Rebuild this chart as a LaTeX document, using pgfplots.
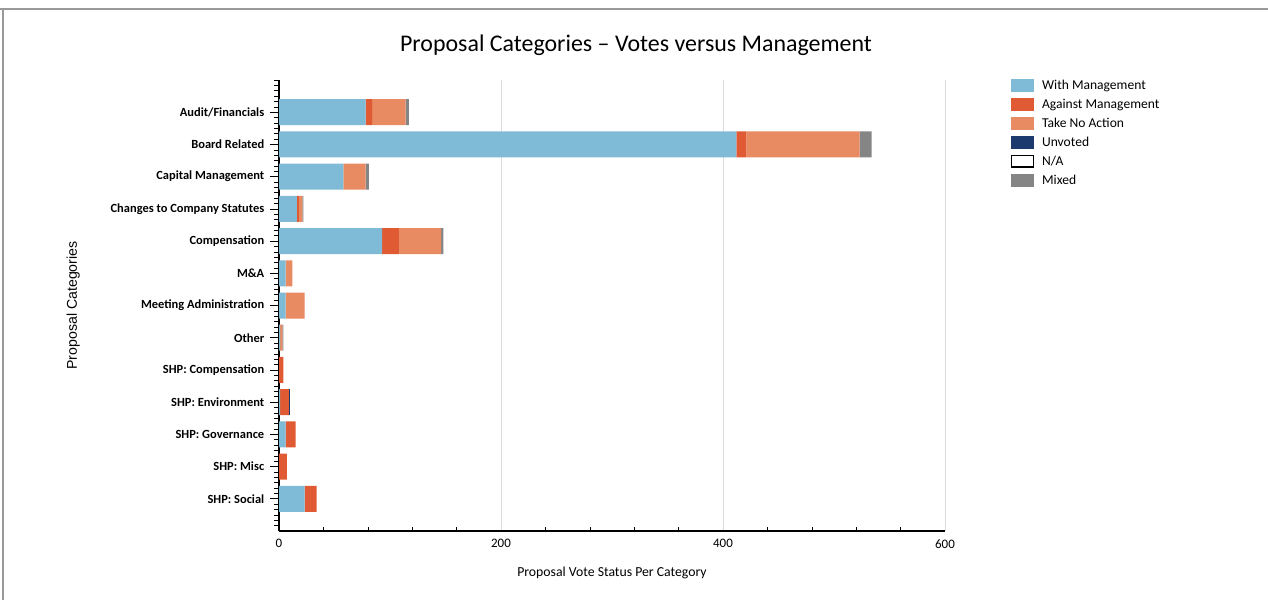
\documentclass[border=0pt]{standalone}
\usepackage{pgfplots}
\pgfplotsset{compat=1.18}
\usepackage{fontspec}
\setmainfont{Carlito}
\newfontfamily\arialfont{Liberation Sans}
\definecolor{withm}{HTML}{7FBAD6}
\definecolor{against}{HTML}{E05A33}
\definecolor{tna}{HTML}{E88A62}
\definecolor{unvoted}{HTML}{1C3A6E}
\definecolor{mixed}{HTML}{858585}
\definecolor{gridc}{HTML}{DADADA}
\begin{document}
\begin{tikzpicture}
\useasboundingbox (0,0) rectangle (1268bp,600bp);
\draw[gray!80, line width=1.2bp] (0,591bp) -- (1268bp,591bp);
\draw[gray!80, line width=1.2bp] (3bp,0) -- (3bp,591bp);
\node[font=\fontsize{24}{28}\selectfont] at (636bp,555bp) {Proposal Categories -- Votes versus Management};
\begin{axis}[
  at={(279bp,69bp)}, anchor=south west,
  scale only axis,
  width=666bp, height=451bp,
  xbar stacked,
  bar width=26bp,
  xmin=0, xmax=600,
  ymin=-1, ymax=13,
  y dir=reverse,
  axis lines=left,
  axis line style={black, line width=1.2bp, -},
  xtick={0,200,400,600},
  minor x tick num=4,
  ytick={0,...,12},
  minor ytick={-1,-0.8333,-0.6667,-0.5,-0.3333,-0.1667,
    0.1667,0.3333,0.5,0.6667,0.8333,
    1.1667,1.3333,1.5,1.6667,1.8333,
    2.1667,2.3333,2.5,2.6667,2.8333,
    3.1667,3.3333,3.5,3.6667,3.8333,
    4.1667,4.3333,4.5,4.6667,4.8333,
    5.1667,5.3333,5.5,5.6667,5.8333,
    6.1667,6.3333,6.5,6.6667,6.8333,
    7.1667,7.3333,7.5,7.6667,7.8333,
    8.1667,8.3333,8.5,8.6667,8.8333,
    9.1667,9.3333,9.5,9.6667,9.8333,
    10.1667,10.3333,10.5,10.6667,10.8333,
    11.1667,11.3333,11.5,11.6667,11.8333,
    12.1667,12.3333,12.5,12.6667,12.8333},
  yticklabels={Audit/Financials, Board Related, Capital Management,
    Changes to Company Statutes, Compensation, M\&A, Meeting Administration,
    Other, SHP: Compensation, SHP: Environment, SHP: Governance, SHP: Misc,
    SHP: Social},
  yticklabel style={font=\fontsize{12.5}{14}\selectfont\bfseries, xshift=-7bp},
  xticklabel style={font=\fontsize{13}{15}\selectfont, yshift=-5bp},
  /pgf/number format/assume math mode=true,
  ytick style={black, line width=0.6bp},
  xtick style={black, line width=0.6bp},
  y tick style={/pgfplots/major tick length=9bp, /pgfplots/minor tick length=5bp},
  x tick style={/pgfplots/major tick length=0bp, /pgfplots/minor tick length=4bp},
  ytick align=outside,
  xtick align=inside,
  xmajorgrids,
  major x grid style={gridc, line width=1bp},
  xlabel={Proposal Vote Status Per Category},
  ylabel={\arialfont Proposal Categories},
  xlabel style={font=\fontsize{13.8}{16}\selectfont, at={(0.5,-0.092)}, anchor=center},
  ylabel style={font=\fontsize{14.2}{16}\selectfont, at={(-0.309,0.5)}, anchor=center},
  legend style={at={(1.099,1.005)}, anchor=north west, draw=none,
    font=\fontsize{13.6}{15}\selectfont, row sep=4.1bp,
    inner sep=0pt, cells={anchor=west}},
  legend image code/.code={
    \draw[#1, draw=none] (0bp,-6.5bp) rectangle (23bp,6.5bp);},
]
\addplot[fill=withm, draw=none] coordinates {
  (78,0) (412,1) (58,2) (16,3) (93,4) (6,5) (6,6) (1,7) (0,8) (1,9) (6,10) (0,11) (23,12)};
\addlegendentry{\hspace{6bp}With Management}
\addplot[fill=against, draw=none] coordinates {
  (6,0) (9,1) (0,2) (2,3) (15,4) (0,5) (0,6) (0,7) (4,8) (8,9) (9,10) (7,11) (11,12)};
\addlegendentry{\hspace{6bp}Against Management}
\addplot[fill=tna, draw=none] coordinates {
  (30,0) (102,1) (20,2) (3,3) (38,4) (6,5) (17,6) (2,7) (0,8) (0,9) (0,10) (0,11) (0,12)};
\addlegendentry{\hspace{6bp}Take No Action}
\addplot[fill=unvoted, draw=none] coordinates {
  (0,0) (0,1) (0,2) (0,3) (0,4) (0,5) (0,6) (0,7) (0,8) (1,9) (0,10) (0,11) (0,12)};
\addlegendentry{\hspace{6bp}Unvoted}
\addlegendimage{legend image code/.code={
    \draw[black, fill=white, line width=1.3bp] (0.7bp,-5.8bp) rectangle (22.3bp,5.8bp);}}
\addlegendentry{\hspace{6bp}N/A}
\addplot[fill=mixed, draw=none] coordinates {
  (3,0) (11,1) (3,2) (1,3) (2,4) (0,5) (0,6) (1,7) (0,8) (0,9) (0,10) (0,11) (0,12)};
\addlegendentry{\hspace{6bp}Mixed}
\end{axis}
\end{tikzpicture}
\end{document}
